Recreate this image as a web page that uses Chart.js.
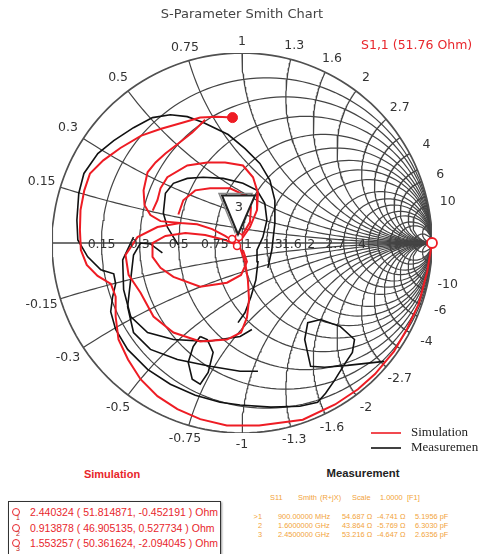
<!DOCTYPE html>
<html>
<head>
<meta charset="utf-8">
<script src="https://cdn.jsdelivr.net/npm/chart.js@4.4.0/dist/chart.umd.min.js"></script>
<style>
  body { margin: 0; background: #fff; width: 478px; height: 554px; overflow: hidden; position: relative; font-family: "Liberation Sans", sans-serif; }
  #wrap { position: absolute; left: 0; top: 0; width: 478px; height: 460px; }
  .hdr { position: absolute; font-weight: bold; text-align: center; }
  #simHdr { left: 0; width: 224px; top: 468px; color: #e8262c; font-size: 11px; }
  #measHdr { left: 263px; width: 200px; top: 467px; color: #222; font-size: 11.3px; }
  #simBox { position: absolute; left: 8px; top: 501px; width: 211px; height: 60px; border: 1.5px solid #333; box-shadow: 1px 1px 2px #999; }
  .simRow { position: absolute; left: 0; height: 15px; color: #e8262c; font-size: 10.5px; white-space: nowrap; }
  .simRow .txt { position: absolute; left: 21px; top: 0; line-height: 15px; }
  .simRow .ico { position: absolute; left: 3px; top: 3px; width: 6px; height: 6px; border: 1.5px solid #e8262c; border-radius: 50%; }
  .simRow .num { position: absolute; left: 7px; top: 9px; font-size: 7px; line-height: 7px; color: #c02020; }
  .m { position: absolute; color: #f2a33a; font-size: 7.4px; white-space: nowrap; line-height: 8px; }
</style>
</head>
<body>
<div id="wrap"><canvas id="smith" width="478" height="460"></canvas></div>
<div id="simHdr" class="hdr">Simulation</div>
<div id="measHdr" class="hdr">Measurement</div>
<div id="simBox"></div>
<div id="measText"></div>
<script>
// grid values of the chart (normalised impedance)
const resistanceValues = [0.15, 0.3, 0.5, 0.75, 1, 1.3, 1.6, 2, 2.7, 3.3, 4, 5, 6, 8, 10, 20];
const reactanceValues = [0.15, 0.3, 0.5, 0.75, 1, 1.3, 1.6, 2, 2.7, 3.3, 4, 5, 6, 8, 10, 20];
const rimLabels = ["0.15", "0.3", "0.5", "0.75", "1", "1.3", "1.6", "2", "2.7", "4", "6", "10"];
const axisTickLabels = ["0.15", "0.3", "0.5", "0.75", "1", "1.3", "1.6", "2", "2.7", "4"];

// traces, reflection coefficient [re, im]
const simOuter = [[-0.05,0.66],[-0.13,0.665],[-0.22,0.66],[-0.31,0.634],[-0.43,0.60],[-0.53,0.565],[-0.64,0.50],[-0.73,0.435],[-0.80,0.366],[-0.83,0.277],[-0.85,0.173],[-0.853,0.068],[-0.848,-0.037],[-0.817,-0.115],[-0.76,-0.173],[-0.69,-0.215],[-0.665,-0.283],[-0.665,-0.387],[-0.65,-0.508],[-0.60,-0.613],[-0.534,-0.717],[-0.445,-0.806],[-0.34,-0.874],[-0.22,-0.927],[-0.08,-0.96],[0.09,-0.96],[0.32,-0.93],[0.49,-0.85],[0.61,-0.77],[0.70,-0.69],[0.80,-0.57],[0.87,-0.45],[0.93,-0.32],[0.975,-0.15],[1,0]];
const simLoopA = [[-0.194,0.649],[-0.262,0.581],[-0.335,0.524],[-0.403,0.471],[-0.455,0.424],[-0.497,0.372],[-0.518,0.277],[-0.513,0.199],[-0.482,0.147],[-0.429,0.115],[-0.325,0.105],[-0.236,0.099],[-0.157,0.073],[-0.089,0.037],[-0.031,0]];
const simLoopB = [[-0.47,0.17],[-0.445,0.225],[-0.429,0.288],[-0.393,0.346],[-0.288,0.408],[-0.183,0.424],[-0.089,0.424],[0.005,0.408],[0.058,0.346],[0.084,0.262],[0.079,0.173],[0.042,0.084],[-0.005,0.016]];
const simLoopC = [[-0.335,0.15],[-0.309,0.225],[-0.246,0.277],[-0.168,0.288],[-0.063,0.288],[0.016,0.251],[0.047,0.188],[0.042,0.110],[0.005,0.047],[-0.021,0]];
const simLoopD = [[-0.031,-0.010],[-0.089,0.016],[-0.194,0.042],[-0.298,0.052],[-0.403,0.037],[-0.471,0],[-0.471,-0.073],[-0.429,-0.131],[-0.361,-0.178],[-0.220,-0.230],[-0.079,-0.209],[-0.005,-0.168],[0.026,-0.099],[0.005,-0.037]];
const simLoopE = [[-0.325,0.105],[-0.445,0.084],[-0.550,0.031],[-0.613,-0.063],[-0.597,-0.168],[-0.534,-0.262],[-0.466,-0.387],[-0.361,-0.471],[-0.220,-0.518],[-0.079,-0.508],[-0.005,-0.471],[0.026,-0.393],[0.037,-0.298],[0.031,-0.194],[0.016,-0.099],[-0.010,-0.026]];
const simMarkers = [[-0.052,0.021],[-0.016,0.031],[-0.026,-0.016]];

const measOuter = [[0.136,-0.131],[0.157,-0.037],[0.173,0.105],[0.173,0.225],[0.147,0.330],[0.094,0.419],[0.016,0.497],[-0.073,0.571],[-0.204,0.634],[-0.288,0.665],[-0.377,0.675],[-0.471,0.660],[-0.571,0.607],[-0.675,0.539],[-0.759,0.471],[-0.832,0.366],[-0.859,0.262],[-0.869,0.120],[-0.864,0.016],[-0.812,-0.073],[-0.743,-0.141],[-0.675,-0.162],[-0.665,-0.215],[-0.681,-0.283],[-0.691,-0.361],[-0.665,-0.455],[-0.602,-0.560],[-0.497,-0.665],[-0.377,-0.743],[-0.246,-0.801],[-0.115,-0.838],[-0.010,-0.853],[0.152,-0.864],[0.304,-0.859],[0.398,-0.838],[0.440,-0.791],[0.487,-0.723],[0.539,-0.639],[0.581,-0.576],[0.592,-0.508],[0.518,-0.440],[0.414,-0.403],[0.346,-0.419],[0.330,-0.508],[0.361,-0.649],[0.435,-0.654],[0.555,-0.644],[0.749,-0.623]];
const measLoopA = [[-0.021,-0.419],[0.016,-0.366],[0.047,-0.283],[0.073,-0.194],[0.084,-0.099],[0.079,-0.037],[0.110,0.031],[0.131,0.120],[0.120,0.209],[0.079,0.277],[0.005,0.314],[-0.099,0.340],[-0.204,0.346],[-0.288,0.340],[-0.361,0.314],[-0.403,0.262],[-0.414,0.157],[-0.393,0.084],[-0.361,0.031],[-0.335,-0.010]];
const measLoopB = [[-0.419,-0.052],[-0.482,-0.005],[-0.534,0],[-0.571,-0.063],[-0.586,-0.194],[-0.602,-0.335],[-0.571,-0.471],[-0.482,-0.560],[-0.340,-0.613],[-0.168,-0.649],[-0.010,-0.675],[0.084,-0.675]];
const measLoopC = [[-0.571,0.031],[-0.628,-0.089],[-0.623,-0.246],[-0.586,-0.387],[-0.497,-0.471],[-0.361,-0.508],[-0.183,-0.518],[-0.010,-0.492],[0.052,-0.455]];
const measLoopD = [[-0.220,-0.492],[-0.257,-0.545],[-0.283,-0.628],[-0.262,-0.717],[-0.220,-0.743],[-0.178,-0.681],[-0.152,-0.576],[-0.183,-0.508],[-0.220,-0.492]];
const measMarker = [-0.021, 0.045];

// readouts
const simReadouts = [
  "2.440324 ( 51.814871, -0.452191 ) Ohm",
  "0.913878 ( 46.905135, 0.527734 ) Ohm",
  "1.553257 ( 50.361624, -2.094045 ) Ohm",
];
const measHeader = ["S11", "Smith", "(R+jX)", "Scale", "1.0000", "[F1]"];
const measIds = [">1", "2", "3"];
const measFreq = ["900.00000", "1.6000000", "2.4500000"];
const measUnit = ["MHz", "GHz", "GHz"];
const measR = ["54.687 Ω", "43.864 Ω", "53.216 Ω"];
const measX = ["-4.741 Ω", "-5.769 Ω", "-4.647 Ω"];
const measC = ["5.1956 pF", "6.3030 pF", "2.6356 pF"];

const RED = "#ee1c24";
const BLACK = "#111";
const GRID = "#444";

function gamma(r, x) {
  const d = (r + 1) * (r + 1) + x * x;
  return [(r * r - 1 + x * x) / d, (2 * x) / d];
}

function resistanceCircle(r) {
  const pts = [];
  const n = 160;
  for (let i = 0; i <= n; i++) {
    if (i === 0 || i === n) { pts.push([1, 0]); continue; }
    pts.push(gamma(r, Math.tan(-Math.PI / 2 + (Math.PI * i) / n)));
  }
  return pts;
}

function reactanceArc(x) {
  const pts = [];
  const n = 120;
  for (let i = 0; i <= n; i++) {
    if (i === n) { pts.push([1, 0]); continue; }
    pts.push(gamma(Math.tan((Math.PI / 2) * i / n), x));
  }
  return pts;
}

function lineSet(points, color, width, order) {
  return {
    data: points.map(([re, im]) => ({ x: re, y: im })),
    showLine: true,
    borderColor: color,
    borderWidth: width,
    pointRadius: 0,
    tension: 0,
    fill: false,
    order: order,
  };
}

const datasets = [];
// simulation traces
[simOuter, simLoopA, simLoopB, simLoopC, simLoopD, simLoopE].forEach((t) => datasets.push(lineSet(t, RED, 2, 1)));
// measurement traces
[measOuter, measLoopA, measLoopB, measLoopC, measLoopD].forEach((t) => datasets.push(lineSet(t, BLACK, 1.6, 2)));
// grid
datasets.push(lineSet(resistanceCircle(0), "#505050", 1.7, 3));
datasets.push(lineSet([[-1, 0], [1, 0]], GRID, 1.3, 3));
resistanceValues.forEach((r) => datasets.push(lineSet(resistanceCircle(r), GRID, 1.2, 3)));
reactanceValues.forEach((x) => {
  datasets.push(lineSet(reactanceArc(x), GRID, 1.2, 3));
  datasets.push(lineSet(reactanceArc(-x), GRID, 1.2, 3));
});
// markers
datasets.push({
  data: [{ x: simOuter[0][0], y: simOuter[0][1] }],
  pointRadius: 5, pointBackgroundColor: RED, pointBorderColor: RED, order: 0, clip: false,
});
datasets.push({
  data: [{ x: simOuter[simOuter.length - 1][0], y: simOuter[simOuter.length - 1][1] }],
  pointRadius: 5, pointBackgroundColor: "#fff", pointBorderColor: RED, pointBorderWidth: 1.8, order: 0, clip: false,
});
datasets.push({
  data: simMarkers.map(([re, im]) => ({ x: re, y: im })),
  pointRadius: 3.5, pointBackgroundColor: "#fff", pointBorderColor: RED, pointBorderWidth: 1.5, order: 0, clip: false,
});

const smithText = {
  id: "smithText",
  afterDraw(chart) {
    const { ctx, scales: { x, y } } = chart;
    ctx.save();
    ctx.fillStyle = "#333";
    ctx.font = '12.5px "DejaVu Sans"';
    ctx.textAlign = "center";
    ctx.textBaseline = "middle";
    // reactance labels round the rim
    rimLabels.forEach((lab) => {
      const v = parseFloat(lab);
      [v, -v].forEach((xv) => {
        const [gr, gi] = gamma(0, xv);
        const a = Math.atan2(gi, gr);
        const rad = 1.06 + 0.045 * Math.abs(Math.cos(a));
        const txt = xv < 0 ? "-" + lab : lab;
        ctx.fillText(txt, x.getPixelForValue(rad * Math.cos(a)), y.getPixelForValue(rad * Math.sin(a)));
      });
    });
    // resistance labels on the real axis
    axisTickLabels.forEach((lab) => {
      const r = parseFloat(lab);
      const gr = (r - 1) / (r + 1);
      ctx.fillText(lab, x.getPixelForValue(gr) + (r >= 1 ? 6 : 0), y.getPixelForValue(0) + 2);
    });

    // marker 3 of the measurement
    const tx = x.getPixelForValue(measMarker[0]);
    const ty = y.getPixelForValue(measMarker[1]);
    const tri = (dx, dy) => {
      ctx.beginPath();
      ctx.moveTo(tx - 16 + dx, ty - 39 + dy);
      ctx.lineTo(tx + 17 + dx, ty - 39 + dy);
      ctx.lineTo(tx + dx, ty + dy);
      ctx.closePath();
    };
    tri(-3, -2);
    ctx.strokeStyle = "#888";
    ctx.lineWidth = 1.5;
    ctx.stroke();
    tri(0, 0);
    ctx.fillStyle = "#fff";
    ctx.fill();
    ctx.strokeStyle = "#222";
    ctx.lineWidth = 2;
    ctx.stroke();
    ctx.fillStyle = "#333";
    ctx.font = '13px "DejaVu Sans"';
    ctx.fillText("3", tx + 1, ty - 27);

    // trace label
    ctx.fillStyle = "#e8262c";
    ctx.font = '12.5px "DejaVu Sans"';
    ctx.textAlign = "left";
    ctx.fillText("S1,1 (51.76 Ohm)", 361, 46);

    // legend
    ctx.lineWidth = 1.6;
    ctx.strokeStyle = RED;
    ctx.beginPath(); ctx.moveTo(371, 433); ctx.lineTo(401, 433); ctx.stroke();
    ctx.strokeStyle = BLACK;
    ctx.beginPath(); ctx.moveTo(371, 448); ctx.lineTo(401, 448); ctx.stroke();
    ctx.fillStyle = "#222";
    ctx.font = '13px "Liberation Serif"';
    ctx.fillText("Simulation", 411, 433);
    ctx.fillText("Measurement", 411, 448);
    ctx.restore();
  },
};

new Chart(document.getElementById("smith"), {
  type: "scatter",
  data: { datasets },
  options: {
    responsive: false,
    animation: false,
    events: [],
    layout: { padding: { left: 52, right: 46, top: 0, bottom: 27 } },
    scales: {
      x: { type: "linear", min: -1, max: 1, display: false },
      y: { type: "linear", min: -1, max: 1, display: false },
    },
    plugins: {
      legend: { display: false },
      tooltip: { enabled: false },
      title: {
        display: true,
        text: "S-Parameter Smith Chart",
        color: "#444",
        font: { family: "DejaVu Sans", size: 13, weight: "normal" },
        padding: { top: 7, bottom: 30.4 },
      },
    },
  },
  plugins: [smithText],
});

// simulation readout box
const simBox = document.getElementById("simBox");
simReadouts.forEach((txt, i) => {
  const row = document.createElement("div");
  row.className = "simRow";
  row.style.top = 3 + i * 15.5 + "px";
  row.style.width = "211px";
  row.innerHTML = '<span class="ico"></span><span class="num">' + (i + 1) + '</span><span class="txt">' + txt + "</span>";
  simBox.appendChild(row);
});

// measurement readout
const measText = document.getElementById("measText");
function put(text, left, top, alignRight) {
  const s = document.createElement("span");
  s.className = "m";
  s.textContent = text;
  s.style.top = top + "px";
  if (alignRight) { s.style.right = 478 - left + "px"; } else { s.style.left = left + "px"; }
  measText.appendChild(s);
}
const headerCols = [270, 298, 320, 352, 380, 407];
measHeader.forEach((t, i) => put(t, headerCols[i], 494));
const rowCols = [278, 315, 342, 377, 415];
measIds.forEach((id, i) => {
  const top = 513 + i * 9;
  put(id, 262, top, true);
  [measFreq[i], measUnit[i], measR[i], measX[i], measC[i]].forEach((t, j) => put(t, rowCols[j], top));
});
</script>
</body>
</html>
